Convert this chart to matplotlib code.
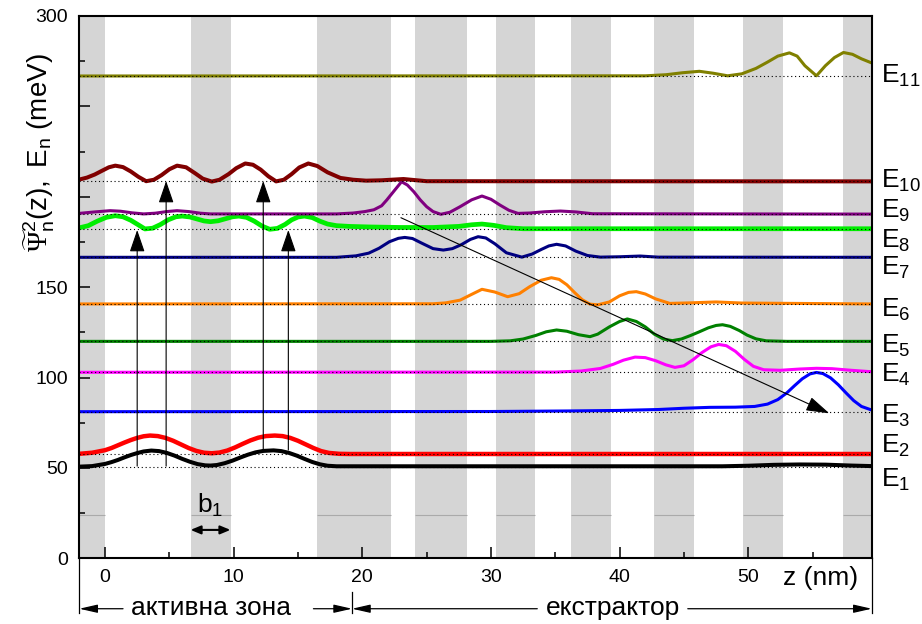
import numpy as np
import matplotlib
matplotlib.use("Agg")
import matplotlib.pyplot as plt
from matplotlib.transforms import blended_transform_factory

plt.rcParams['font.family'] = ['Liberation Sans', 'DejaVu Sans']
plt.rcParams['mathtext.fontset'] = 'custom'
plt.rcParams['mathtext.rm'] = 'Liberation Sans'
plt.rcParams['mathtext.it'] = 'Liberation Sans:italic'
plt.rcParams['mathtext.bf'] = 'Liberation Sans:bold'
plt.rcParams['mathtext.sf'] = 'Liberation Serif'

# barrier layers (nm)
barrier_start = [-2.0, 6.7, 16.5, 24.1, 30.4, 36.2, 42.7, 49.6, 57.4]
barrier_end = [0.0, 9.8, 22.2, 28.1, 33.4, 39.3, 45.8, 52.7, 59.6]

# energy levels E1..E11 (meV)
levels = [50.7, 57.7, 81.1, 102.9, 120.0, 140.7, 166.5, 182.3, 190.4, 208.5, 266.8]

# |psi|^2 shifted to its level
e1_z = [-2, -1, 0, 0.5, 1, 1.5, 2, 2.5, 3, 3.6, 4.2, 4.8, 5.4, 6, 6.6, 7.2, 7.8, 8.2, 8.7, 9.3, 9.9,
        10.5, 11.1, 11.7, 12.3, 13.1, 13.7, 14.3, 14.9, 15.5, 16.1, 16.7, 17.3, 18, 19, 48, 50, 52,
        54, 56, 58, 59.6]
e1_psi = [50.7, 51.0, 52.2, 53.2, 54.4, 55.8, 57.1, 58.2, 59.1, 59.6, 59.3, 58.3, 56.8, 55.0, 53.4,
          52.1, 51.4, 51.3, 51.6, 52.6, 54.0, 55.7, 57.3, 58.6, 59.4, 59.7, 59.3, 58.3, 56.8, 55.0,
          53.3, 52.0, 51.2, 50.9, 50.9, 50.9, 51.2, 51.7, 51.9, 51.8, 51.3, 51.0]

e2_z = [-2, -1, 0, 0.5, 1, 1.5, 2, 2.5, 3, 3.5, 4.1, 4.7, 5.3, 5.9, 6.5, 7.1, 7.7, 8.3, 8.9, 9.5,
        10.1, 10.7, 11.3, 11.9, 12.5, 13.2, 13.8, 14.4, 15.0, 15.6, 16.2, 16.8, 17.4, 18.2, 19, 59.6]
e2_psi = [57.8, 58.4, 59.8, 61.0, 62.5, 64.0, 65.4, 66.6, 67.5, 67.9, 67.6, 66.6, 65.0, 63.0, 61.0,
          59.4, 58.4, 58.1, 58.5, 59.6, 61.3, 63.3, 65.2, 66.7, 67.6, 67.9, 67.6, 66.6, 65.0, 63.0,
          61.0, 59.3, 58.3, 57.8, 57.7, 57.7]

e3_z = [-2, 30, 36, 40, 43, 45, 47, 49, 50.5, 51.5, 52.3, 53, 53.6, 54.2, 54.8, 55.3, 55.8, 56.4,
        57, 57.6, 58.2, 58.8, 59.6]
e3_psi = [81.1, 81.2, 81.5, 81.8, 82.3, 83.0, 83.5, 83.6, 84.0, 85.3, 87.8, 91.5, 95.5, 99.3, 102.0,
          102.8, 102.2, 99.8, 96.0, 91.5, 87.2, 84.0, 82.0]

e4_z = [-2, 35, 37, 38.5, 39.5, 40.3, 41.2, 42, 42.8, 43.6, 44.3, 45, 45.7, 46.4, 47.1, 47.7, 48.3,
        49, 49.7, 50.4, 51.2, 52.5, 54, 55.3, 56.5, 58, 59.6]
e4_psi = [102.9, 103.0, 103.6, 105.0, 107.3, 109.6, 111.3, 111.0, 109.3, 107.0, 105.6, 106.5, 109.8,
          113.8, 117.0, 118.3, 117.6, 114.5, 110.0, 106.2, 104.3, 104.0, 104.7, 105.1, 104.9, 104.0,
          103.2]

e5_z = [-2, 30, 31.5, 32.5, 33.5, 34.3, 35.1, 35.9, 36.8, 37.7, 38.3, 39.2, 40.0, 40.6, 41.3, 42.0,
        42.7, 43.4, 44.1, 44.8, 45.5, 46.2, 46.9, 47.5, 48.0, 48.6, 49.3, 49.9, 50.6, 51.4, 53, 59.6]
e5_psi = [120.0, 120.0, 120.3, 121.3, 123.3, 125.3, 126.3, 125.6, 123.7, 122.6, 124.0, 128.0, 131.0,
          132.4, 131.0, 128.0, 124.0, 121.3, 120.4, 121.3, 123.2, 125.3, 127.5, 128.8, 129.2, 128.3,
          126.0, 123.5, 121.4, 120.3, 120.0, 120.0]

e6_z = [-2, 25.5, 26.5, 27.6, 28.5, 29.3, 30.3, 31.3, 32.2, 33.0, 33.9, 34.7, 35.3, 35.9, 36.5, 37.1,
        37.7, 38.3, 39.2, 40.0, 40.7, 41.3, 42.0, 42.8, 43.9, 45.5, 47.5, 49.5, 59.6]
e6_psi = [140.7, 140.8, 141.3, 142.8, 146.0, 148.8, 147.3, 144.7, 146.4, 150.2, 153.8, 155.2, 154.3,
          151.3, 147.0, 143.0, 140.6, 140.2, 141.8, 145.2, 147.1, 147.5, 146.2, 143.5, 141.0, 141.3,
          141.8, 141.2, 140.7]

e7_z = [-2, 18, 19.5, 20.5, 21.3, 22.1, 22.8, 23.3, 23.9, 24.6, 25.5, 26.3, 27.0, 27.7, 28.4, 29.0,
        29.6, 30.3, 31.2, 32.4, 33.2, 33.9, 34.5, 35.1, 35.8, 36.6, 37.5, 38.5, 40, 41.6, 43, 59.6]
e7_psi = [166.5, 166.5, 167.3, 168.8, 171.5, 175.1, 177.0, 177.5, 176.9, 174.4, 171.3, 170.5, 171.3,
          173.5, 176.4, 177.9, 177.2, 174.0, 169.0, 166.6, 168.3, 170.8, 172.8, 173.7, 172.8, 169.9,
          167.5, 166.6, 166.8, 167.2, 166.6, 166.5]

e8_z = [-2, -1.3, -0.6, 0.1, 0.8, 1.4, 2.0, 2.6, 3.1, 3.7, 4.3, 4.9, 5.5, 6.0, 6.6, 7.2, 7.7, 8.2,
        8.8, 9.4, 9.9, 10.4, 11.0, 11.6, 12.2, 12.8, 13.4, 14.0, 14.5, 15.0, 15.5, 16.1, 16.7, 17.3,
        18.0, 19.0, 20.5, 23, 25.5, 27.5, 28.5, 29.3, 30.2, 31.2, 32.5, 59.6]
e8_psi = [182.8, 184.0, 186.5, 188.6, 189.5, 188.9, 187.0, 184.4, 182.2, 182.6, 184.6, 187.2, 188.9,
          189.3, 188.8, 187.6, 186.6, 186.2, 186.7, 187.9, 188.9, 189.3, 188.6, 186.5, 183.8, 182.0,
          182.5, 184.7, 187.2, 188.8, 189.3, 188.5, 186.5, 184.9, 184.0, 183.6, 183.3, 183.0, 183.0,
          183.6, 184.5, 184.9, 184.2, 182.9, 182.3, 182.3]

e9_z = [-2, -0.8, 0.4, 1.2, 2.1, 3.0, 3.9, 4.8, 5.6, 6.5, 7.4, 8.2, 18, 19.3, 20.2, 20.9, 21.5, 21.9,
        22.5, 23.05, 23.5, 24.0, 24.5, 25.0, 25.5, 26.1, 26.8, 27.6, 28.5, 29.3, 30.0, 30.7, 31.4,
        32.1, 33.0, 34.2, 35.4, 36.6, 37.9, 59.6]
e9_psi = [190.8, 191.6, 192.3, 192.0, 191.1, 190.5, 190.9, 191.8, 192.3, 191.8, 190.9, 190.5, 190.5,
          191.0, 191.8, 192.8, 195.0, 198.2, 203.5, 208.3, 206.5, 202.8, 198.3, 194.5, 191.8, 190.3,
          191.4, 194.5, 198.3, 200.4, 198.6, 195.4, 192.5, 190.8, 191.0, 191.7, 192.1, 191.6, 190.6,
          190.4]

e10_z = [-2, -1.4, -0.8, -0.2, 0.3, 0.8, 1.4, 2.0, 2.6, 3.2, 3.8, 4.4, 5.0, 5.6, 6.3, 7.0, 7.6, 8.3,
         8.9, 9.6, 10.2, 10.9, 11.5, 12.1, 12.7, 13.3, 13.9, 14.5, 15.1, 15.8, 16.5, 17.3, 18.3, 19.3,
         20.3, 21.5, 23.2, 25, 59.6]
e10_psi = [209.5, 210.6, 212.3, 214.5, 216.3, 217.2, 216.4, 214.0, 211.0, 208.6, 209.4, 212.0, 215.2,
           217.2, 216.3, 213.0, 210.0, 208.4, 209.4, 212.5, 215.8, 218.4, 217.7, 215.0, 211.3, 208.5,
           209.4, 212.5, 216.2, 218.4, 217.0, 213.5, 210.4, 209.4, 208.9, 209.1, 209.8, 208.6, 208.5]

e11_z = [-2, 42, 43.6, 44.9, 46.2, 47.3, 48.4, 49.5, 50.6, 51.5, 52.3, 53.2, 53.8, 54.4, 55.3, 56.0,
         56.7, 57.4, 58.1, 58.8, 59.6]
e11_psi = [266.8, 266.9, 267.5, 268.6, 269.4, 268.3, 266.9, 268.0, 271.0, 274.5, 277.8, 279.6, 277.8,
           272.5, 266.9, 272.5, 277.0, 279.8, 278.8, 276.3, 274.0]

# optical transitions: (z, from, to)
trans_z = [2.5, 4.75, 12.3, 14.25]
trans_from = [51.0, 51.0, 59.9, 59.9]
trans_to = [181.6, 208.7, 208.7, 181.6]

colors = ['black', '#ff0000', '#0000ff', '#ff00ff', '#008000', '#ff8000',
          '#000080', '#00ee00', '#800080', '#800000', '#808000']
widths = [2.9, 3.2, 2.2, 2.2, 2.2, 2.2, 2.2, 3.4, 2.2, 2.9, 2.2]
curves = [(e1_z, e1_psi), (e2_z, e2_psi), (e3_z, e3_psi), (e4_z, e4_psi), (e5_z, e5_psi),
          (e6_z, e6_psi), (e7_z, e7_psi), (e8_z, e8_psi), (e9_z, e9_psi), (e10_z, e10_psi),
          (e11_z, e11_psi)]
# baseline y of the E_n labels on the right (meV)
label_y = [39.4, 58.2, 74.8, 97.4, 113.5, 133.5, 156.7, 171.6, 188.2, 204.8, 262.9]

fig = plt.figure(figsize=(9.22, 6.24), dpi=100)
ax = fig.add_axes([0.086, 0.1053, 0.8595, 0.8691])
ax.set_xlim(-2, 59.6)
ax.set_ylim(0, 300)

for a, b in zip(barrier_start, barrier_end):
    ax.axvspan(a, b, color='#d5d5d5', lw=0, zorder=0)
ax.hlines([24] * len(barrier_start), barrier_start, barrier_end, color='#aaaaaa', lw=0.8, zorder=0.5)

for (z, p), c, w in zip(curves, colors, widths):
    ax.plot(z, p, color=c, lw=w, solid_joinstyle='round', solid_capstyle='butt', zorder=2)

ax.hlines(levels, -2, 59.6, colors='black', lw=0.8, linestyles=(0, (1, 2.5)), zorder=3)

for z, y0, y1 in zip(trans_z, trans_from, trans_to):
    ax.annotate('', xy=(z, y1), xytext=(z, y0),
                arrowprops=dict(arrowstyle='-|>,head_length=1.37,head_width=0.47', color='black',
                                lw=0.8, shrinkA=0, shrinkB=0, mutation_scale=10), zorder=5)

ax.annotate('', xy=(56.3, 80.2), xytext=(23.0, 188.4),
            arrowprops=dict(arrowstyle='-|>,head_length=1.45,head_width=0.45', color='black',
                            lw=0.8, shrinkA=0, shrinkB=0, mutation_scale=10), zorder=5)

# barrier width b1
ax.annotate('', xy=(9.75, 15.7), xytext=(6.65, 15.7),
            arrowprops=dict(arrowstyle='<|-|>,head_length=0.6,head_width=0.25', color='black',
                            lw=1.5, shrinkA=0, shrinkB=0, mutation_scale=10), zorder=5)
ax.text(8.2, 24.9, r'$\mathregular{b_1}$', ha='center', va='baseline', fontsize=19)

# axes styling
ax.set_xticks([0, 10, 20, 30, 40, 50])
ax.set_xticks([5, 15, 25, 35, 45, 55], minor=True)
ax.set_yticks([0, 50, 100, 150, 200, 250, 300])
ax.set_yticklabels(['0', '50', '100', '150', '', '', '300'])
ax.set_yticks([25, 75, 125, 175, 225, 275], minor=True)
ax.tick_params(which='major', direction='in', length=8, width=1.1, labelsize=14, pad=8)
ax.tick_params(which='minor', direction='in', length=4, width=1.1)
for s in ax.spines.values():
    s.set_linewidth(1.5)

ax.set_ylabel(r'$\mathregular{\widetilde{\mathsf{\Psi}}^{2}_{n}(z),\ E_{n}\ (meV)}$', fontsize=20)
ax.yaxis.set_label_coords(-0.028, 0.748)

for i, y in enumerate(label_y):
    ax.text(1.012, y, r'$\mathregular{E_{%d}}$' % (i + 1), fontsize=19, ha='left', va='baseline',
            transform=blended_transform_factory(ax.transAxes, ax.transData))

tr = blended_transform_factory(ax.transData, ax.transAxes)
ax.text(55.6, -0.049, 'z (nm)', transform=tr, ha='center', va='baseline', fontsize=19)

# region markers under the axis
yb = -0.093
ax.text(8.24, -0.1046, 'активна зона', transform=tr, ha='center', va='baseline', fontsize=19)
ax.text(39.5, -0.1046, 'екстрактор', transform=tr, ha='center', va='baseline', fontsize=19)
akw = dict(arrowstyle='-|>,head_length=1.1,head_width=0.25', color='black', lw=0.9,
           shrinkA=0, shrinkB=0, mutation_scale=10)
for tip, tail in [(-2, 1.4), (19.2, 16.2), (19.2, 33.6), (59.6, 45.3)]:
    ax.annotate('', xy=(tip, yb), xytext=(tail, yb), xycoords=tr, textcoords=tr,
                arrowprops=akw, annotation_clip=False)
ax.plot([-2, -2], [0, -0.1], transform=tr, color='black', lw=0.9, clip_on=False)
ax.plot([59.6, 59.6], [0, -0.1], transform=tr, color='black', lw=0.9, clip_on=False)
ax.plot([19.2, 19.2], [-0.062, -0.1], transform=tr, color='black', lw=0.9, clip_on=False)

fig.savefig('out.png', dpi=100)
